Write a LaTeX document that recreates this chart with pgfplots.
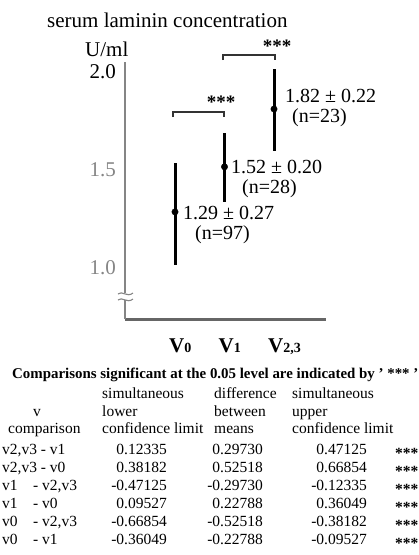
\documentclass[border=0pt]{standalone}
\usepackage{pgfplots}
\pgfplotsset{compat=1.18}
\usepackage{fontspec}
\setmainfont{Liberation Serif}
\definecolor{axgray}{HTML}{666666}
\definecolor{lblgray}{HTML}{858585}
\newcommand{\fs}[1]{\fontsize{#1}{#1}\selectfont}
\begin{document}
\begin{tikzpicture}
\begin{scope}[x=1pt,y=-1pt]
\useasboundingbox (0,0) rectangle (417,555);
\end{scope}
\begin{axis}[at={(125pt,-319pt)}, anchor=south west, scale only axis,
  width=201pt, height=257pt,
  xmin=-1.01, xmax=3.05, ymin=0.738, ymax=2.05,
  axis x line=bottom, axis y line=left, axis line style={-},
  x axis line style={color=axgray, line width=3pt},
  y axis line style={color=lblgray, line width=2pt},
  xtick={0,1,2},
  xticklabels={{\bfseries V}{\fs{14}\bfseries 0},{\bfseries V}{\fs{14}\bfseries 1},{\bfseries V}{\fs{14}\bfseries 2,3}},
  ytick={1,1.5,2},
  yticklabels={{\color{lblgray}1.0},{\color{lblgray}1.5},2.0},
  major tick length=0pt, tick style={draw=none},
  yticklabel style={font=\fs{21}, inner sep=0pt, anchor=east, xshift=-9pt},
  xticklabel style={font=\fs{21}, inner sep=0pt, anchor=base west, xshift=-6pt, yshift=-33pt},
  clip=false, /pgf/number format/assume math mode=true]
\addplot[only marks, mark=*, mark size=3.2pt, black,
  error bars/.cd, y dir=both, y explicit, error mark=none,
  error bar style={line width=3pt, black}]
  coordinates {
  (0,1.285) += (0,0.25) -= (0,0.27)
  (1,1.515) += (0,0.175) -= (0,0.18)
  (2,1.81) += (0,0.205) -= (0,0.215)
  };
\end{axis}
\begin{scope}[x=1pt,y=-1pt, every node/.style={inner sep=0pt}]
% titles
\node[anchor=base west] at (47,27) {\fs{21}serum laminin concentration};
\node[anchor=base west] at (85,56) {\fs{21}U/ml};
% value labels
\node[anchor=base west] at (285,102) {\fs{20}1.82 ± 0.22};
\node[anchor=base west] at (292,122) {\fs{20}(n=23)};
\node[anchor=base west] at (231,173) {\fs{20}1.52 ± 0.20};
\node[anchor=base west] at (242,193) {\fs{20}(n=28)};
\node[anchor=base west] at (183,219) {\fs{20}1.29 ± 0.27};
\node[anchor=base west] at (195,239) {\fs{20}(n=97)};
% brackets
\draw[line width=1.1pt, black!80] (173,117) -- (173,112) -- (224,112) -- (224,117);
\draw[line width=1.1pt, black!80] (223,60) -- (223,55) -- (275,55) -- (275,60);
\node[anchor=base] at (221,108) {\fs{19}\bfseries ***};
\node[anchor=base] at (277,52) {\fs{19}\bfseries ***};
% axis break
\fill[white] (119,293) rectangle (132,300);
\draw[lblgray, line width=1.1pt] (118,294) .. controls (122,290) and (127,298) .. (133,293);
\draw[lblgray, line width=1.1pt] (118,300) .. controls (122,296) and (127,304) .. (133,299);
% footnote
\node[anchor=base west] at (12,378) {\fs{14.9}\bfseries Comparisons significant at the 0.05 level are indicated by ' *** '};
% table header
\begin{scope}[every node/.append style={font=\fs{15.5}}]
\node[anchor=base west] at (102,398) {simultaneous};
\node[anchor=base west] at (214,398) {difference};
\node[anchor=base west] at (292,398) {simultaneous};
\node[anchor=base] at (37,416) {v};
\node[anchor=base west] at (102,416) {lower};
\node[anchor=base west] at (214,416) {between};
\node[anchor=base west] at (292,416) {upper};
\node[anchor=base west] at (8,433) {comparison};
\node[anchor=base west] at (102,433) {confidence limit};
\node[anchor=base west] at (214,433) {means};
\node[anchor=base west] at (292,433) {confidence limit};
% rows
\node[anchor=base west] at (2,454) {v2,v3 - v1};
\node[anchor=base west] at (2,472) {v2,v3 - v0};
\node[anchor=base west] at (2,490) {v1};
\node[anchor=base west] at (33,490) {- v2,v3};
\node[anchor=base west] at (2,508) {v1};
\node[anchor=base west] at (33,508) {- v0};
\node[anchor=base west] at (2,526) {v0};
\node[anchor=base west] at (33,526) {- v2,v3};
\node[anchor=base west] at (2,544) {v0};
\node[anchor=base west] at (33,544) {- v1};
\node[anchor=base east] at (167,454) {0.12335};
\node[anchor=base east] at (167,472) {0.38182};
\node[anchor=base east] at (167,490) {-0.47125};
\node[anchor=base east] at (167,508) {0.09527};
\node[anchor=base east] at (167,526) {-0.66854};
\node[anchor=base east] at (167,544) {-0.36049};
\node[anchor=base east] at (263,454) {0.29730};
\node[anchor=base east] at (263,472) {0.52518};
\node[anchor=base east] at (263,490) {-0.29730};
\node[anchor=base east] at (263,508) {0.22788};
\node[anchor=base east] at (263,526) {-0.52518};
\node[anchor=base east] at (263,544) {-0.22788};
\node[anchor=base east] at (367,454) {0.47125};
\node[anchor=base east] at (367,472) {0.66854};
\node[anchor=base east] at (367,490) {-0.12335};
\node[anchor=base east] at (367,508) {0.36049};
\node[anchor=base east] at (367,526) {-0.38182};
\node[anchor=base east] at (367,544) {-0.09527};
\foreach \yy in {454,472,490,508,526,544}
  \node[anchor=base west] at (395,\yy+4) {\bfseries ***};
\end{scope}
\end{scope}
\end{tikzpicture}
\end{document}
